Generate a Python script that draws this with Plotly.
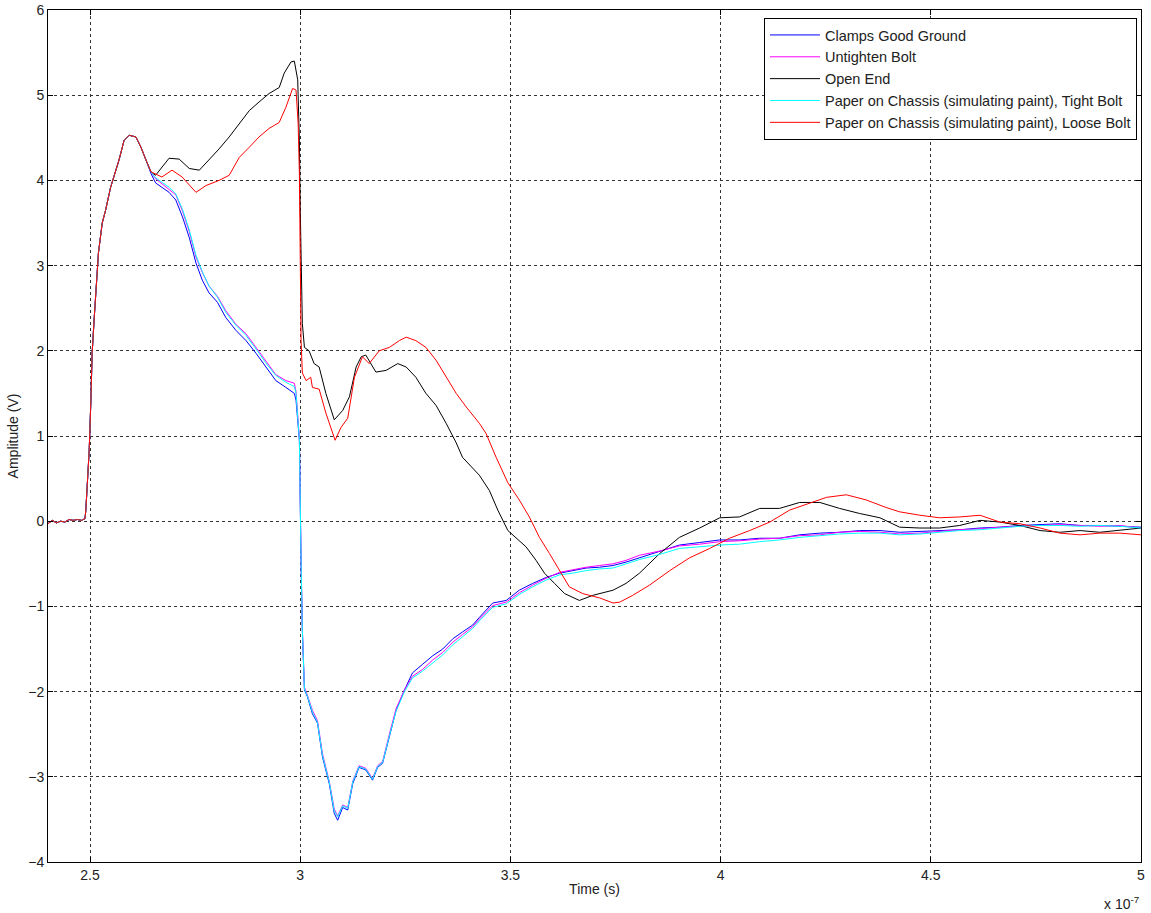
import plotly.graph_objects as go

# time in units of 1e-7 s, amplitude in V
t_rise = [2.400, 2.410, 2.420, 2.430, 2.440, 2.450, 2.460, 2.470, 2.480, 2.488,
          2.490, 2.498, 2.502, 2.505, 2.510, 2.515, 2.520, 2.529, 2.537, 2.549,
          2.557, 2.569, 2.581, 2.593, 2.609, 2.621, 2.633]
v_rise = [-0.03, 0.01, -0.02, 0.00, -0.01, 0.02, 0.01, 0.02, 0.01, 0.03,
          0.13, 0.83, 1.42, 1.97, 2.39, 2.75, 3.15, 3.50, 3.65, 3.92,
          4.04, 4.24, 4.47, 4.53, 4.51, 4.39, 4.24]

t_clamps = [2.645, 2.656, 2.672, 2.688, 2.704, 2.720, 2.736, 2.752, 2.767, 2.783,
            2.803, 2.823, 2.847, 2.871, 2.895, 2.918, 2.942, 2.966, 2.986, 2.990,
            2.994, 2.998, 3.002, 3.005, 3.010, 3.017, 3.029, 3.041, 3.053, 3.069,
            3.081, 3.089, 3.101, 3.113, 3.125, 3.140, 3.156, 3.172, 3.184, 3.196,
            3.212, 3.228, 3.248, 3.267, 3.291, 3.315, 3.339, 3.363, 3.386, 3.410,
            3.426, 3.458, 3.490, 3.521, 3.553, 3.585, 3.617, 3.648, 3.680, 3.712,
            3.744, 3.775, 3.807, 3.855, 3.902, 3.950, 3.998, 4.045, 4.093, 4.140,
            4.188, 4.236, 4.283, 4.331, 4.379, 4.426, 4.474, 4.521, 4.569, 4.617,
            4.664, 4.712, 4.760, 4.807, 4.855, 4.902, 4.950, 5.000]
v_clamps = [4.08, 3.97, 3.92, 3.86, 3.77, 3.57, 3.33, 3.03, 2.83, 2.68,
            2.57, 2.39, 2.24, 2.12, 1.97, 1.81, 1.65, 1.57, 1.50, 1.42,
            1.19, 0.95, -0.49, -1.28, -1.98, -2.06, -2.26, -2.37, -2.77, -3.08,
            -3.43, -3.51, -3.36, -3.39, -3.08, -2.89, -2.92, -3.04, -2.89, -2.84,
            -2.53, -2.22, -1.98, -1.78, -1.68, -1.58, -1.50, -1.38, -1.30, -1.22,
            -1.13, -0.96, -0.93, -0.81, -0.73, -0.66, -0.61, -0.58, -0.55, -0.54,
            -0.52, -0.48, -0.43, -0.36, -0.28, -0.25, -0.22, -0.22, -0.20, -0.20,
            -0.16, -0.14, -0.13, -0.11, -0.11, -0.13, -0.12, -0.11, -0.10, -0.08,
            -0.07, -0.05, -0.04, -0.03, -0.05, -0.05, -0.06, -0.07]

t_untighten = t_clamps
v_untighten = [4.10, 4.02, 3.96, 3.90, 3.83, 3.64, 3.40, 3.10, 2.92, 2.76,
               2.64, 2.47, 2.31, 2.20, 2.04, 1.88, 1.72, 1.65, 1.62, 1.52,
               1.25, 0.98, -0.45, -1.25, -1.95, -2.04, -2.22, -2.34, -2.73, -3.05,
               -3.38, -3.46, -3.33, -3.36, -3.05, -2.87, -2.90, -3.02, -2.87, -2.82,
               -2.50, -2.20, -1.98, -1.82, -1.74, -1.63, -1.54, -1.42, -1.33, -1.24,
               -1.15, -0.99, -0.95, -0.84, -0.75, -0.67, -0.60, -0.57, -0.54, -0.52,
               -0.50, -0.46, -0.40, -0.35, -0.29, -0.27, -0.24, -0.23, -0.21, -0.20,
               -0.17, -0.16, -0.13, -0.12, -0.13, -0.15, -0.14, -0.12, -0.10, -0.09,
               -0.07, -0.06, -0.05, -0.04, -0.05, -0.06, -0.05, -0.08]

t_tight = t_clamps
v_tight = [4.10, 4.03, 3.98, 3.92, 3.84, 3.66, 3.42, 3.12, 2.93, 2.76,
           2.63, 2.45, 2.30, 2.18, 2.02, 1.86, 1.71, 1.63, 1.58, 1.50,
           1.22, 0.97, -0.47, -1.27, -1.97, -2.05, -2.24, -2.36, -2.75, -3.06,
           -3.40, -3.47, -3.34, -3.37, -3.06, -2.88, -2.91, -3.03, -2.88, -2.83,
           -2.52, -2.23, -2.00, -1.84, -1.76, -1.66, -1.57, -1.45, -1.36, -1.26,
           -1.17, -1.01, -0.97, -0.86, -0.77, -0.69, -0.63, -0.61, -0.58, -0.56,
           -0.55, -0.50, -0.45, -0.39, -0.32, -0.30, -0.28, -0.27, -0.24, -0.22,
           -0.19, -0.17, -0.15, -0.14, -0.14, -0.16, -0.15, -0.13, -0.11, -0.10,
           -0.08, -0.06, -0.05, -0.05, -0.06, -0.05, -0.06, -0.08]

t_open = [2.645, 2.656, 2.671, 2.688, 2.712, 2.736, 2.760, 2.783, 2.807, 2.831,
          2.855, 2.879, 2.902, 2.926, 2.950, 2.962, 2.978, 2.986, 2.994, 2.998,
          3.000, 3.002, 3.005, 3.010, 3.021, 3.033, 3.045, 3.061, 3.081, 3.101,
          3.117, 3.133, 3.145, 3.156, 3.180, 3.204, 3.232, 3.252, 3.275, 3.299,
          3.323, 3.347, 3.371, 3.386, 3.410, 3.426, 3.450, 3.470, 3.494, 3.514,
          3.537, 3.561, 3.581, 3.605, 3.629, 3.664, 3.696, 3.744, 3.775, 3.807,
          3.855, 3.902, 3.950, 3.998, 4.045, 4.093, 4.140, 4.188, 4.236, 4.283,
          4.331, 4.379, 4.426, 4.474, 4.521, 4.569, 4.617, 4.664, 4.712, 4.760,
          4.807, 4.855, 4.902, 5.000]
v_open = [4.10, 4.06, 4.16, 4.26, 4.25, 4.14, 4.12, 4.24, 4.37, 4.51,
          4.67, 4.82, 4.92, 5.02, 5.09, 5.26, 5.39, 5.40, 5.18, 4.47,
          3.69, 2.91, 2.32, 2.04, 2.00, 1.85, 1.81, 1.50, 1.19, 1.30,
          1.46, 1.81, 1.93, 1.95, 1.75, 1.77, 1.85, 1.81, 1.69, 1.50,
          1.36, 1.15, 0.92, 0.75, 0.63, 0.54, 0.36, 0.13, -0.11, -0.20,
          -0.30, -0.46, -0.61, -0.73, -0.85, -0.93, -0.87, -0.81, -0.73, -0.61,
          -0.38, -0.19, -0.08, 0.04, 0.05, 0.15, 0.15, 0.22, 0.22, 0.15,
          0.09, 0.04, -0.07, -0.08, -0.08, -0.05, 0.01, -0.01, -0.05, -0.11,
          -0.13, -0.11, -0.13, -0.08]

t_loose = [2.645, 2.671, 2.695, 2.719, 2.743, 2.752, 2.776, 2.807, 2.831, 2.855,
           2.879, 2.902, 2.926, 2.950, 2.966, 2.982, 2.990, 2.995, 2.998, 3.000,
           3.002, 3.005, 3.014, 3.025, 3.029, 3.045, 3.061, 3.083, 3.097, 3.113,
           3.129, 3.148, 3.164, 3.188, 3.212, 3.236, 3.252, 3.275, 3.299, 3.323,
           3.347, 3.371, 3.395, 3.426, 3.442, 3.466, 3.494, 3.521, 3.545, 3.569,
           3.593, 3.617, 3.640, 3.672, 3.712, 3.744, 3.760, 3.791, 3.831, 3.879,
           3.926, 3.974, 4.021, 4.069, 4.117, 4.164, 4.212, 4.252, 4.299, 4.346,
           4.394, 4.426, 4.474, 4.521, 4.569, 4.617, 4.664, 4.712, 4.760, 4.807,
           4.855, 4.902, 4.950, 5.000]
v_loose = [4.10, 4.04, 4.12, 4.04, 3.91, 3.86, 3.94, 4.00, 4.06, 4.27,
           4.39, 4.51, 4.61, 4.68, 4.86, 5.08, 5.06, 4.67, 4.08, 2.91,
           2.12, 1.74, 1.65, 1.69, 1.57, 1.55, 1.27, 0.95, 1.10, 1.21,
           1.69, 1.93, 1.85, 2.00, 2.04, 2.12, 2.16, 2.12, 2.04, 1.89,
           1.69, 1.50, 1.34, 1.15, 1.03, 0.75, 0.45, 0.25, 0.05, -0.19,
           -0.38, -0.58, -0.77, -0.85, -0.90, -0.96, -0.95, -0.87, -0.75, -0.58,
           -0.43, -0.32, -0.20, -0.11, -0.01, 0.13, 0.21, 0.28, 0.31, 0.25,
           0.16, 0.11, 0.07, 0.04, 0.05, 0.07, -0.01, -0.03, -0.08, -0.14,
           -0.16, -0.14, -0.14, -0.16]

series = [
    ("Clamps Good Ground", t_clamps, v_clamps, "#0000ff"),
    ("Untighten Bolt", t_untighten, v_untighten, "#ff00ff"),
    ("Open End", t_open, v_open, "#000000"),
    ("Paper on Chassis (simulating paint), Tight Bolt", t_tight, v_tight, "#00ffff"),
    ("Paper on Chassis (simulating paint), Loose Bolt", t_loose, v_loose, "#ff0000"),
]

x_ticks = [2.5, 3.0, 3.5, 4.0, 4.5, 5.0]
x_tick_text = ["2.5", "3", "3.5", "4", "4.5", "5"]
y_ticks = [-4, -3, -2, -1, 0, 1, 2, 3, 4, 5, 6]

FONT = "Liberation Sans, Arial"

fig = go.Figure()
for name, tt, vv, col in series:
    fig.add_trace(go.Scatter(
        x=t_rise + tt, y=v_rise + vv, mode="lines", name=name,
        line=dict(color=col, width=1)))

axis_common = dict(
    showline=True, mirror="ticks", linecolor="black", linewidth=1,
    ticks="inside", ticklen=5, tickcolor="black",
    showgrid=True, gridcolor="#333333", gridwidth=1, griddash="3px,3px",
    zeroline=False, automargin=False,
    tickfont=dict(family=FONT, size=14, color="#222"),
)

fig.update_layout(
    width=1151, height=913,
    margin=dict(l=48, r=10, t=10, b=51),
    paper_bgcolor="white", plot_bgcolor="white",
    font=dict(family=FONT, size=14, color="#222"),
    showlegend=True,
    legend=dict(x=0.9963, y=0.9906, xanchor="right", yanchor="top",
                bgcolor="white", bordercolor="black", borderwidth=1,
                font=dict(family=FONT, size=14.5, color="#222"),
                itemwidth=50, tracegroupgap=0),
    xaxis=dict(range=[2.4, 5.0], tickvals=x_ticks, ticktext=x_tick_text,
               title=dict(text="Time (s)", standoff=2,
                          font=dict(family=FONT, size=14, color="#222")),
               **axis_common),
    yaxis=dict(range=[-4, 6], tickvals=y_ticks,
               title=dict(text="Amplitude (V)", standoff=6,
                          font=dict(family=FONT, size=14, color="#222")),
               **axis_common),
    annotations=[dict(text="x 10<sup>-7</sup>", xref="paper", yref="paper",
                      x=1.0, y=-0.048, xanchor="right", yanchor="middle",
                      showarrow=False,
                      font=dict(family=FONT, size=14, color="#222"))],
)

fig.write_html("out.html")
